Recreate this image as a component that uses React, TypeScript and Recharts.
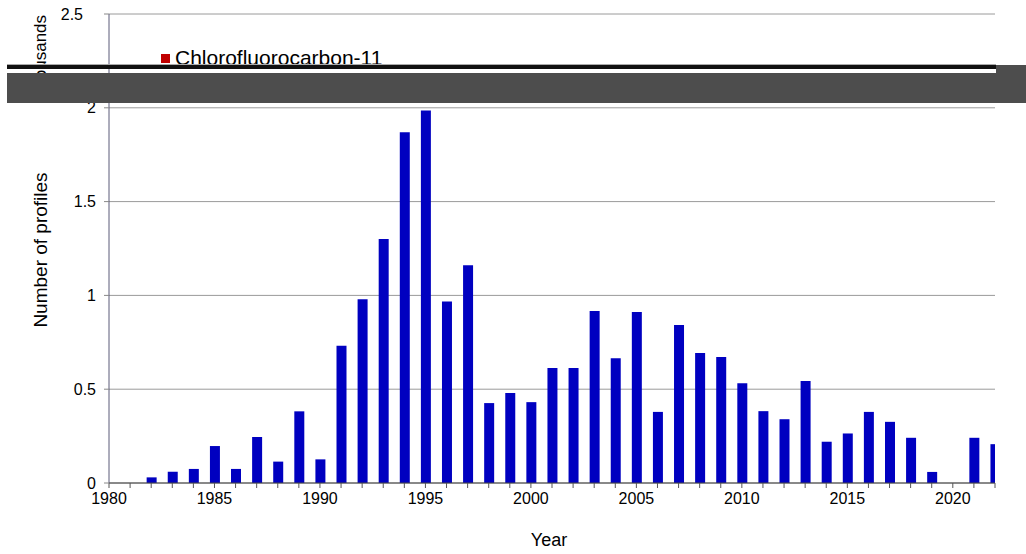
import React from 'react';
import { BarChart, Bar, XAxis, YAxis, CartesianGrid, Legend, Label } from 'recharts';

const years = [
  1980, 1981, 1982, 1983, 1984, 1985, 1986, 1987, 1988, 1989,
  1990, 1991, 1992, 1993, 1994, 1995, 1996, 1997, 1998, 1999,
  2000, 2001, 2002, 2003, 2004, 2005, 2006, 2007, 2008, 2009,
  2010, 2011, 2012, 2013, 2014, 2015, 2016, 2017, 2018, 2019,
  2020, 2021, 2022,
];

const profiles = [
  0, 0, 0.03, 0.06, 0.075, 0.197, 0.075, 0.245, 0.114, 0.382,
  0.126, 0.732, 0.98, 1.3, 1.87, 1.986, 0.967, 1.161, 0.426, 0.48,
  0.431, 0.613, 0.613, 0.917, 0.665, 0.911, 0.379, 0.842, 0.693, 0.672,
  0.532, 0.383, 0.34, 0.544, 0.22, 0.264, 0.379, 0.326, 0.241, 0.059,
  0, 0.241, 0.207,
];

const yTicks = [0, 0.5, 1, 1.5, 2, 2.5];
const xLabelYears = [1980, 1985, 1990, 1995, 2000, 2005, 2010, 2015, 2020];

const seriesName = 'Chlorofluorocarbon-11';
const yTitle = 'Number of profiles';
const yUnit = 'Thousands';
const xTitle = 'Year';

const data = years.map((y, i) => ({ year: y, value: profiles[i] }));

const FONT = '"Liberation Sans", Arial, sans-serif';

const XTick = (props: any) => {
  const { x, y, payload } = props;
  if (!xLabelYears.includes(payload.value)) return <g />;
  return (
    <text x={x} y={y} dy="0.71em" textAnchor="middle" fontSize={16} fill="#000" fontFamily={FONT}>
      {payload.value}
    </text>
  );
};

const YTick = (props: any) => {
  const { x, y, payload } = props;
  const shift = payload.value === 2.5 ? -13 : 0;
  return (
    <text x={x + shift} y={y} dy="0.355em" textAnchor="end" fontSize={16} fill="#000" fontFamily={FONT}>
      {String(payload.value)}
    </text>
  );
};

const LegendContent = () => (
  <div style={{ display: 'flex', alignItems: 'center', fontFamily: FONT, fontSize: 21, color: '#000', whiteSpace: 'nowrap', lineHeight: '24px' }}>
    <span style={{ display: 'inline-block', width: 9, height: 9, background: '#c00000', marginRight: 5 }} />
    <span>{seriesName}</span>
  </div>
);

export default function App() {
  return (
    <div style={{ position: 'relative', width: 1026, height: 554, background: '#fff', overflow: 'hidden' }}>
      <style>{`body{margin:0;}`}</style>
      <BarChart
        width={1026}
        height={554}
        data={data}
        margin={{ top: 14, right: 31, bottom: 41, left: 49 }}
        style={{ fontFamily: FONT }}
      >
        <CartesianGrid vertical={false} stroke="#9a9a9a" strokeWidth={1} />
        <XAxis
          dataKey="year"
          type="number"
          domain={[1980, 2022]}
          ticks={years}
          interval={0}
          allowDataOverflow
          tickSize={5}
          tickMargin={5}
          tick={<XTick />}
          axisLine={{ stroke: '#444' }}
          tickLine={{ stroke: '#555' }}
          height={30}
        >
          <Label
            content={() => (
              <text x={549} y={540} textAnchor="middle" dominantBaseline="central" fontSize={18} fill="#000" fontFamily={FONT}>
                {xTitle}
              </text>
            )}
          />
        </XAxis>
        <YAxis
          domain={[0, 2.5]}
          ticks={yTicks}
          allowDataOverflow
          width={60}
          tickSize={5}
          tickMargin={8}
          tick={<YTick />}
          axisLine={{ stroke: '#5a5a78' }}
          tickLine={{ stroke: '#888' }}
        >
          <Label
            content={() => (
              <text x={40} y={250} transform="rotate(-90 40 250)" textAnchor="middle" dominantBaseline="central" fontSize={19} fill="#000" fontFamily={FONT}>
                {yTitle}
              </text>
            )}
          />
          <Label
            content={() => (
              <text x={40} y={57} transform="rotate(-90 40 57)" textAnchor="middle" dominantBaseline="central" fontSize={17} fill="#000" fontFamily={FONT}>
                {yUnit}
              </text>
            )}
          />
        </YAxis>
        <YAxis
          yAxisId="right"
          orientation="right"
          width={0}
          tick={false}
          tickLine={false}
          axisLine={{ stroke: '#a8a8cc' }}
          domain={[0, 2.5]}
        />
        <Legend
          layout="vertical"
          verticalAlign="middle"
          align="center"
          content={<LegendContent />}
          wrapperStyle={{ position: 'absolute', left: 161, top: 46, width: 260, height: 24 }}
        />
        <Bar dataKey="value" name={seriesName} fill="#0000c0" barSize={10} isAnimationActive={false} />
      </BarChart>
      {/* dark band across the upper part of the picture */}
      <div style={{ position: 'absolute', left: 7, top: 64, width: 989, height: 1, background: '#aaa' }} />
      <div style={{ position: 'absolute', left: 7, top: 65, width: 989, height: 4, background: '#111' }} />
      <div style={{ position: 'absolute', left: 7, top: 73, width: 1019, height: 30, background: '#4d4d4d' }} />
      <div style={{ position: 'absolute', left: 996, top: 65, width: 30, height: 8, background: '#4d4d4d' }} />
    </div>
  );
}
